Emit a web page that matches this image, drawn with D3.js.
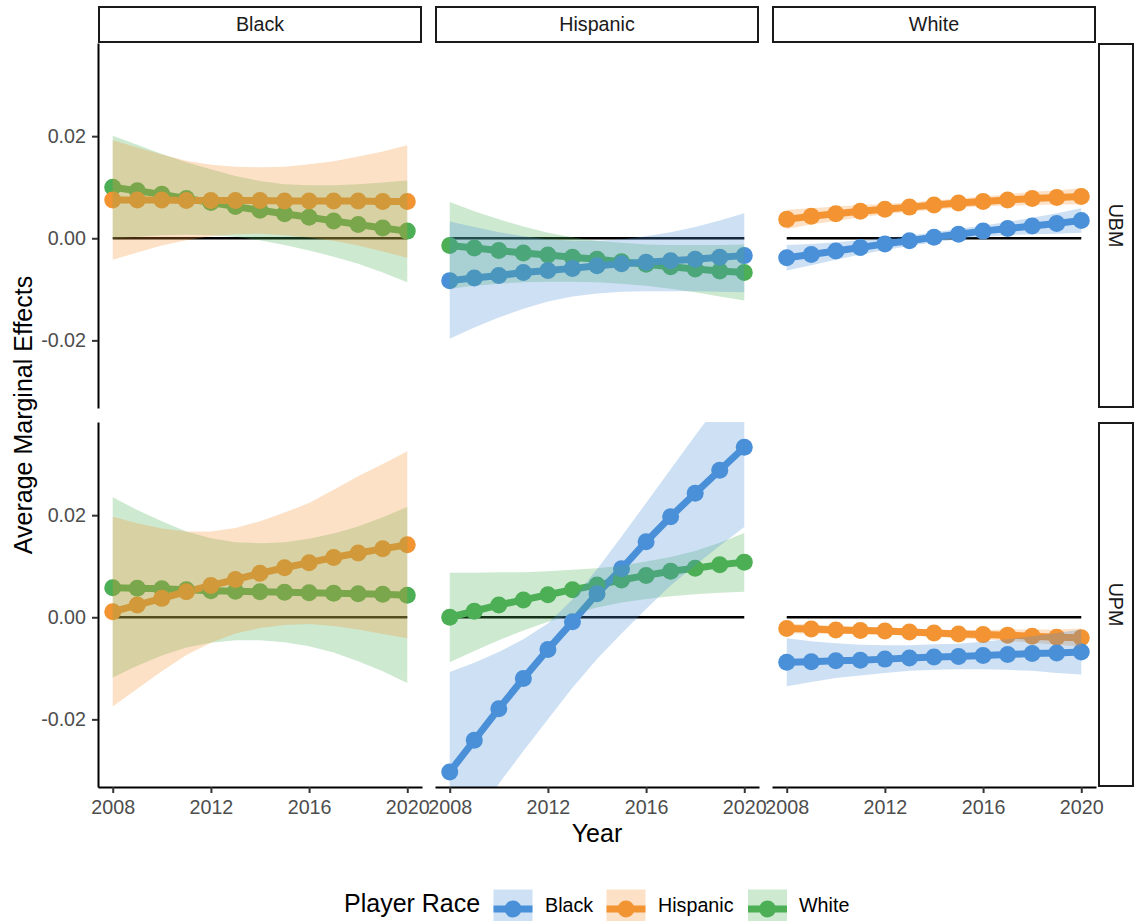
<!DOCTYPE html>
<html>
<head>
<meta charset="utf-8">
<script src="https://cdn.jsdelivr.net/npm/d3@7"></script>
<style>
  body { margin: 0; background: #ffffff; }
  svg text { font-family: "Liberation Sans", Arial, Helvetica, sans-serif; }
</style>
</head>
<body>
<svg id="chart" width="1139" height="921"></svg>
<script>
// ---- categories, ticks, limits ----
const years = [2008, 2009, 2010, 2011, 2012, 2013, 2014, 2015, 2016, 2017, 2018, 2019, 2020];
const facetRaces = ["Black", "Hispanic", "White"];
const measures = ["UBM", "UPM"];
const playerRaces = ["Black", "Hispanic", "White"];
const raceColors = ["#4A90D9", "#F39433", "#4DAF55"];
const yTicks = [-0.02, 0.00, 0.02];
const xTicks = [2008, 2012, 2016, 2020];
const yLimits = [-0.03, 0.035];

// ---- UBM, Black facet ----
const ubmBlackHispEst = [0.0075, 0.0075, 0.0075, 0.0074, 0.0074, 0.0074, 0.0074, 0.0073, 0.0073, 0.0073, 0.0073, 0.0072, 0.0072];
const ubmBlackHispLo = [-0.0042, -0.0028, -0.0014, -0.0004, 0.0004, 0.0008, 0.0009, 0.0006, 0.0001, -0.0005, -0.0014, -0.0026, -0.0038];
const ubmBlackHispHi = [0.0192, 0.0178, 0.0164, 0.0152, 0.0144, 0.0140, 0.0139, 0.0140, 0.0145, 0.0151, 0.0160, 0.0170, 0.0182];
const ubmBlackWhiteEst = [0.0100, 0.0093, 0.0086, 0.0078, 0.0070, 0.0062, 0.0055, 0.0048, 0.0041, 0.0034, 0.0027, 0.0020, 0.0014];
const ubmBlackWhiteLo = [-0.0001, 0.0003, 0.0006, 0.0007, 0.0006, 0.0003, -0.0004, -0.0013, -0.0024, -0.0036, -0.0050, -0.0067, -0.0086];
const ubmBlackWhiteHi = [0.0201, 0.0183, 0.0165, 0.0149, 0.0135, 0.0122, 0.0112, 0.0106, 0.0104, 0.0104, 0.0106, 0.0109, 0.0113];

// ---- UBM, Hispanic facet ----
const ubmHispBlackEst = [-0.0083, -0.0078, -0.0073, -0.0067, -0.0063, -0.0059, -0.0054, -0.0050, -0.0047, -0.0044, -0.0041, -0.0037, -0.0034];
const ubmHispBlackLo = [-0.0197, -0.0175, -0.0155, -0.0138, -0.0124, -0.0114, -0.0108, -0.0105, -0.0104, -0.0104, -0.0104, -0.0105, -0.0106];
const ubmHispBlackHi = [0.0033, 0.0022, 0.0012, 0.0004, -0.0002, -0.0005, -0.0005, -0.0002, 0.0004, 0.0012, 0.0022, 0.0035, 0.0049];
const ubmHispWhiteEst = [-0.0014, -0.0019, -0.0024, -0.0029, -0.0033, -0.0037, -0.0041, -0.0046, -0.0051, -0.0056, -0.0060, -0.0064, -0.0067];
const ubmHispWhiteLo = [-0.0099, -0.0093, -0.0089, -0.0086, -0.0085, -0.0085, -0.0086, -0.0089, -0.0093, -0.0099, -0.0106, -0.0114, -0.0122];
const ubmHispWhiteHi = [0.0071, 0.0053, 0.0037, 0.0023, 0.0011, 0.0002, -0.0005, -0.0009, -0.0012, -0.0013, -0.0013, -0.0013, -0.0012];

// ---- UBM, White facet ----
const ubmWhiteBlackEst = [-0.0038, -0.0032, -0.0025, -0.0018, -0.0011, -0.0005, 0.0002, 0.0008, 0.0014, 0.0019, 0.0024, 0.0029, 0.0035];
const ubmWhiteBlackLo = [-0.0063, -0.0053, -0.0042, -0.0032, -0.0023, -0.0015, -0.0008, -0.0002, 0.0003, 0.0006, 0.0008, 0.0009, 0.0011];
const ubmWhiteBlackHi = [-0.0013, -0.0011, -0.0008, -0.0004, 0.0001, 0.0005, 0.0012, 0.0018, 0.0025, 0.0032, 0.0040, 0.0049, 0.0059];
const ubmWhiteHispEst = [0.0037, 0.0043, 0.0048, 0.0053, 0.0057, 0.0061, 0.0065, 0.0069, 0.0072, 0.0075, 0.0078, 0.0080, 0.0082];
const ubmWhiteHispLo = [0.0018, 0.0027, 0.0034, 0.0041, 0.0047, 0.0052, 0.0056, 0.0060, 0.0062, 0.0064, 0.0065, 0.0066, 0.0066];
const ubmWhiteHispHi = [0.0056, 0.0059, 0.0062, 0.0065, 0.0067, 0.0070, 0.0074, 0.0078, 0.0082, 0.0086, 0.0091, 0.0094, 0.0098];

// ---- UPM, Black facet ----
const upmBlackHispEst = [0.0011, 0.0024, 0.0037, 0.0050, 0.0062, 0.0074, 0.0086, 0.0097, 0.0107, 0.0117, 0.0126, 0.0134, 0.0142];
const upmBlackHispLo = [-0.0175, -0.0140, -0.0106, -0.0074, -0.0050, -0.0032, -0.0021, -0.0015, -0.0013, -0.0017, -0.0024, -0.0033, -0.0041];
const upmBlackHispHi = [0.0197, 0.0184, 0.0174, 0.0168, 0.0168, 0.0175, 0.0188, 0.0205, 0.0224, 0.0250, 0.0276, 0.0300, 0.0325];
const upmBlackWhiteEst = [0.0058, 0.0057, 0.0056, 0.0054, 0.0052, 0.0051, 0.0050, 0.0049, 0.0048, 0.0047, 0.0046, 0.0045, 0.0043];
const upmBlackWhiteLo = [-0.0118, -0.0095, -0.0075, -0.0059, -0.0050, -0.0045, -0.0045, -0.0049, -0.0057, -0.0069, -0.0086, -0.0106, -0.0129];
const upmBlackWhiteHi = [0.0235, 0.0210, 0.0188, 0.0168, 0.0155, 0.0147, 0.0145, 0.0147, 0.0154, 0.0164, 0.0178, 0.0196, 0.0216];

// ---- UPM, Hispanic facet ----
const upmHispBlackEst = [-0.0303, -0.0241, -0.0179, -0.0120, -0.0063, -0.0009, 0.0046, 0.0095, 0.0148, 0.0197, 0.0243, 0.0288, 0.0333];
const upmHispBlackLo = [-0.0500, -0.0410, -0.0326, -0.0262, -0.0200, -0.0138, -0.0082, -0.0032, 0.0016, 0.0062, 0.0102, 0.0140, 0.0177];
const upmHispBlackHi = [-0.0107, -0.0089, -0.0068, -0.0043, -0.0012, 0.0035, 0.0094, 0.0158, 0.0224, 0.0290, 0.0356, 0.0420, 0.0485];
const upmHispWhiteEst = [0.0000, 0.0012, 0.0024, 0.0034, 0.0044, 0.0054, 0.0063, 0.0073, 0.0082, 0.0090, 0.0096, 0.0103, 0.0108];
const upmHispWhiteLo = [-0.0088, -0.0066, -0.0045, -0.0026, -0.0009, 0.0006, 0.0019, 0.0029, 0.0036, 0.0041, 0.0045, 0.0048, 0.0050];
const upmHispWhiteHi = [0.0087, 0.0087, 0.0088, 0.0088, 0.0090, 0.0093, 0.0096, 0.0101, 0.0109, 0.0118, 0.0130, 0.0146, 0.0165];

// ---- UPM, White facet ----
const upmWhiteBlackEst = [-0.0088, -0.0087, -0.0085, -0.0084, -0.0082, -0.0080, -0.0078, -0.0077, -0.0075, -0.0073, -0.0071, -0.0070, -0.0068];
const upmWhiteBlackLo = [-0.0135, -0.0127, -0.0119, -0.0114, -0.0109, -0.0105, -0.0103, -0.0102, -0.0102, -0.0103, -0.0105, -0.0109, -0.0112];
const upmWhiteBlackHi = [-0.0041, -0.0047, -0.0051, -0.0054, -0.0055, -0.0055, -0.0053, -0.0052, -0.0048, -0.0043, -0.0037, -0.0031, -0.0024];
const upmWhiteHispEst = [-0.0022, -0.0023, -0.0025, -0.0026, -0.0027, -0.0029, -0.0031, -0.0033, -0.0034, -0.0035, -0.0037, -0.0039, -0.0040];
const upmWhiteHispLo = [-0.0032, -0.0032, -0.0033, -0.0033, -0.0034, -0.0036, -0.0038, -0.0041, -0.0043, -0.0046, -0.0050, -0.0054, -0.0058];
const upmWhiteHispHi = [-0.0012, -0.0014, -0.0017, -0.0019, -0.0020, -0.0022, -0.0024, -0.0025, -0.0025, -0.0024, -0.0024, -0.0024, -0.0022];

// Series per panel, listed in drawing order (White first so Black/Hispanic sit on top)
const panelSeries = {
  "UBM|Black":    [["White", ubmBlackWhiteEst, ubmBlackWhiteLo, ubmBlackWhiteHi], ["Hispanic", ubmBlackHispEst, ubmBlackHispLo, ubmBlackHispHi]],
  "UBM|Hispanic": [["White", ubmHispWhiteEst, ubmHispWhiteLo, ubmHispWhiteHi], ["Black", ubmHispBlackEst, ubmHispBlackLo, ubmHispBlackHi]],
  "UBM|White":    [["Hispanic", ubmWhiteHispEst, ubmWhiteHispLo, ubmWhiteHispHi], ["Black", ubmWhiteBlackEst, ubmWhiteBlackLo, ubmWhiteBlackHi]],
  "UPM|Black":    [["White", upmBlackWhiteEst, upmBlackWhiteLo, upmBlackWhiteHi], ["Hispanic", upmBlackHispEst, upmBlackHispLo, upmBlackHispHi]],
  "UPM|Hispanic": [["White", upmHispWhiteEst, upmHispWhiteLo, upmHispWhiteHi], ["Black", upmHispBlackEst, upmHispBlackLo, upmHispBlackHi]],
  "UPM|White":    [["Hispanic", upmWhiteHispEst, upmWhiteHispLo, upmWhiteHispHi], ["Black", upmWhiteBlackEst, upmWhiteBlackLo, upmWhiteBlackHi]]
};

// ---- layout ----
const panelW = 324, panelH = 365;
const colLeft = [98, 435, 772];
const rowTop = [43, 422];
const stripTop = 7, stripH = 35;
const rowStripX = 1099, rowStripW = 34;
const fontTick = 19.7, fontStrip = 19.7, fontTitle = 25, fontLegend = 19.7;
const lineW = 7, pointR = 8.5, ribbonAlpha = 0.28;

const color = d3.scaleOrdinal().domain(playerRaces).range(raceColors);
const ySpan = yLimits[1] - yLimits[0];
const yDomain = [yLimits[0] - 0.05 * ySpan, yLimits[1] + 0.05 * ySpan];
const xSpan = years[years.length - 1] - years[0];
const xDomain = [years[0] - 0.05 * xSpan, years[years.length - 1] + 0.05 * xSpan];

const svg = d3.select("#chart");
svg.append("rect").attr("width", 1139).attr("height", 921).attr("fill", "#ffffff");
const defs = svg.append("defs");

function styleAxis(g) {
  g.attr("font-size", null).attr("font-family", null);
  g.select(".domain").attr("stroke", "#000000").attr("stroke-width", 2);
  g.selectAll(".tick line").attr("stroke", "#333333").attr("stroke-width", 2);
  g.selectAll(".tick text").attr("fill", "#4d4d4d").style("font-size", fontTick + "px");
}

measures.forEach((m, r) => {
  facetRaces.forEach((f, c) => {
    const x0 = colLeft[c], y0 = rowTop[r];
    const x = d3.scaleLinear().domain(xDomain).range([x0, x0 + panelW]);
    const y = d3.scaleLinear().domain(yDomain).range([y0 + panelH, y0]);

    const series = panelSeries[m + "|" + f].map(([race, est, lo, hi]) => ({
      race,
      pts: years.map((yr, i) => ({ yr, est: est[i], lo: lo[i], hi: hi[i] }))
    }));

    const clipId = "clip-" + r + "-" + c;
    defs.append("clipPath").attr("id", clipId)
      .append("rect").attr("x", x0).attr("y", y0).attr("width", panelW).attr("height", panelH);
    const g = svg.append("g").attr("clip-path", "url(#" + clipId + ")");

    // zero reference line across the observed years
    g.append("path")
      .datum([years[0], years[years.length - 1]])
      .attr("d", d3.line().x(d => x(d)).y(() => y(0)))
      .attr("stroke", "#000000").attr("stroke-width", 2.6).attr("fill", "none");

    // estimate lines
    series.forEach(s => {
      g.append("path").datum(s.pts)
        .attr("d", d3.line().x(d => x(d.yr)).y(d => y(d.est)))
        .attr("fill", "none").attr("stroke", color(s.race))
        .attr("stroke-width", lineW).attr("stroke-linejoin", "round");
    });

    // estimate points
    series.forEach(s => {
      g.append("g").selectAll("circle").data(s.pts).join("circle")
        .attr("cx", d => x(d.yr)).attr("cy", d => y(d.est)).attr("r", pointR)
        .attr("fill", color(s.race));
    });

    // confidence ribbons
    series.forEach(s => {
      g.append("path").datum(s.pts)
        .attr("d", d3.area().x(d => x(d.yr)).y0(d => y(d.lo)).y1(d => y(d.hi)))
        .attr("fill", color(s.race)).attr("fill-opacity", ribbonAlpha).attr("stroke", "none");
    });

    // left axis on the first column
    if (c === 0) {
      svg.append("g").attr("transform", "translate(" + x0 + ",0)")
        .call(d3.axisLeft(y).tickValues(yTicks).tickFormat(d => d.toFixed(2))
          .tickSize(6).tickPadding(6).tickSizeOuter(0))
        .call(styleAxis);
    }
    // bottom axis on the last row
    if (r === measures.length - 1) {
      svg.append("g").attr("transform", "translate(0," + (y0 + panelH) + ")")
        .call(d3.axisBottom(x).tickValues(xTicks).tickFormat(d => String(d))
          .tickSize(6).tickPadding(7).tickSizeOuter(0))
        .call(styleAxis);
    }
  });
});

// column strips
facetRaces.forEach((f, c) => {
  svg.append("rect")
    .attr("x", colLeft[c] + 1).attr("y", stripTop)
    .attr("width", panelW - 2).attr("height", stripH)
    .attr("fill", "#ffffff").attr("stroke", "#1a1a1a").attr("stroke-width", 2);
  svg.append("text")
    .attr("x", colLeft[c] + panelW / 2).attr("y", stripTop + stripH / 2 + fontStrip * 0.355)
    .attr("text-anchor", "middle").attr("fill", "#1a1a1a")
    .style("font-size", fontStrip + "px").text(f);
});

// row strips
measures.forEach((m, r) => {
  svg.append("rect")
    .attr("x", rowStripX).attr("y", rowTop[r] + 1)
    .attr("width", rowStripW).attr("height", panelH - 2)
    .attr("fill", "#ffffff").attr("stroke", "#1a1a1a").attr("stroke-width", 2);
  const cx = rowStripX + rowStripW / 2, cy = rowTop[r] + panelH / 2;
  svg.append("text")
    .attr("transform", "translate(" + cx + "," + cy + ") rotate(90)")
    .attr("x", 0).attr("y", fontStrip * 0.355)
    .attr("text-anchor", "middle").attr("fill", "#1a1a1a")
    .style("font-size", fontStrip + "px").text(m);
});

// axis titles
svg.append("text")
  .attr("x", colLeft[0] + (colLeft[2] + panelW - colLeft[0]) / 2).attr("y", 842)
  .attr("text-anchor", "middle").attr("fill", "#000000")
  .style("font-size", fontTitle + "px").text("Year");
svg.append("text")
  .attr("transform", "translate(31.5," + (rowTop[0] + (rowTop[1] + panelH - rowTop[0]) / 2) + ") rotate(-90)")
  .attr("text-anchor", "middle").attr("fill", "#000000")
  .style("font-size", fontTitle + "px").text("Average Marginal Effects");

// legend (bottom, horizontal)
const legend = svg.append("g");
const legendBaseline = 912;
legend.append("text").attr("x", 344).attr("y", legendBaseline)
  .attr("fill", "#000000").style("font-size", fontTitle + "px").text("Player Race");
const keyX = [493.5, 606.5, 748], labelX = [545, 658, 799];
const keySize = 39, keyMidY = 909;
playerRaces.forEach((race, i) => {
  const k = legend.append("g");
  k.append("rect").attr("x", keyX[i]).attr("y", keyMidY - keySize / 2)
    .attr("width", keySize).attr("height", keySize)
    .attr("fill", color(race)).attr("fill-opacity", ribbonAlpha);
  k.append("line")
    .attr("x1", keyX[i]).attr("x2", keyX[i] + keySize)
    .attr("y1", keyMidY).attr("y2", keyMidY)
    .attr("stroke", color(race)).attr("stroke-width", lineW);
  k.append("circle").attr("cx", keyX[i] + keySize / 2).attr("cy", keyMidY)
    .attr("r", pointR).attr("fill", color(race));
  legend.append("text").attr("x", labelX[i]).attr("y", legendBaseline)
    .attr("fill", "#000000").style("font-size", fontLegend + "px").text(race);
});
</script>
</body>
</html>
